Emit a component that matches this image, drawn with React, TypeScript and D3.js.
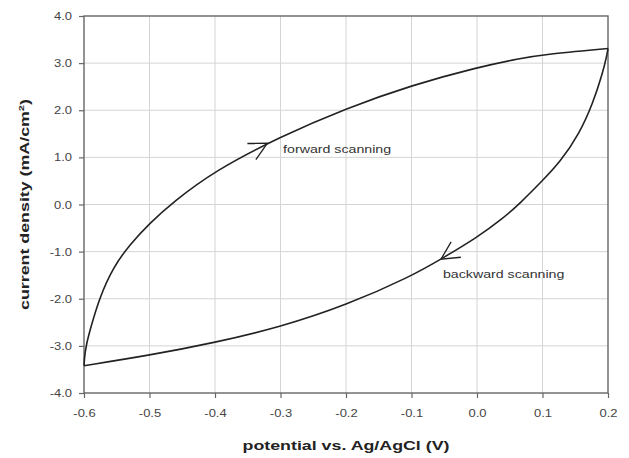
import React, { useEffect, useRef } from "react";
import * as d3 from "d3";

// cyclic voltammogram
const forwardPotential = [-0.6, -0.599, -0.596, -0.591, -0.576, -0.555, -0.53, -0.5, -0.464, -0.4, -0.3, -0.2, -0.1, 0.0, 0.066, 0.1, 0.2];
const forwardCurrent = [-3.42, -3.2, -2.95, -2.67, -1.96, -1.32, -0.85, -0.4, 0.05, 0.72, 1.44, 2.04, 2.53, 2.91, 3.1, 3.18, 3.31];

const backwardPotential = [-0.6, -0.5, -0.4, -0.3, -0.2, -0.1, -0.054, 0.0, 0.04, 0.066, 0.096, 0.127, 0.157, 0.177, 0.192, 0.198, 0.2];
const backwardCurrent = [-3.42, -3.2, -2.93, -2.6, -2.14, -1.52, -1.15, -0.7, -0.29, 0.03, 0.45, 0.9, 1.52, 2.15, 2.8, 3.15, 3.31];

const xTicks = [-0.6, -0.5, -0.4, -0.3, -0.2, -0.1, 0.0, 0.1, 0.2];
const yTicks = [-4, -3, -2, -1, 0, 1, 2, 3, 4];

// arrows: tip on the curve and a point behind it (gives the direction)
const arrowLabels = ["forward scanning", "backward scanning"];
const arrowTip = [[-0.32, 1.3], [-0.055, -1.16]];
const arrowTail = [[-0.35, 1.08], [-0.02, -0.85]];
const labelPos = [[-0.296, 1.09], [-0.052, -1.56]];

const W = 629, H = 458;
const margin = { top: 16, right: 21, bottom: 65, left: 84 };

export default function App() {
  const ref = useRef<SVGSVGElement | null>(null);

  useEffect(() => {
    const svg = d3.select(ref.current);
    svg.selectAll("*").remove();

    const width = W - margin.left - margin.right;
    const height = H - margin.top - margin.bottom;

    const x = d3.scaleLinear().domain([-0.6, 0.2]).range([0, width]);
    const y = d3.scaleLinear().domain([-4, 4]).range([height, 0]);

    const g = svg.append("g").attr("transform", `translate(${margin.left},${margin.top})`);

    // grid
    g.append("g")
      .selectAll("line")
      .data(xTicks.slice(1, -1))
      .enter()
      .append("line")
      .attr("x1", d => x(d)).attr("x2", d => x(d))
      .attr("y1", 0).attr("y2", height)
      .attr("stroke", "#d4d4d4").attr("stroke-width", 1);
    g.append("g")
      .selectAll("line")
      .data(yTicks.slice(1, -1))
      .enter()
      .append("line")
      .attr("y1", d => y(d)).attr("y2", d => y(d))
      .attr("x1", 0).attr("x2", width)
      .attr("stroke", "#d4d4d4").attr("stroke-width", 1);

    // frame
    g.append("rect")
      .attr("width", width).attr("height", height)
      .attr("fill", "none").attr("stroke", "#666").attr("stroke-width", 1.4);

    // axes
    const yAxis = g.append("g")
      .call(d3.axisLeft(y).tickValues(yTicks).tickSize(5).tickSizeOuter(0).tickFormat(d => (+d).toFixed(1)));
    const xAxis = g.append("g")
      .attr("transform", `translate(0,${height})`)
      .call(d3.axisBottom(x).tickValues(xTicks).tickSize(5).tickSizeOuter(0).tickFormat(d => (+d).toFixed(1)));

    [yAxis, xAxis].forEach(a => {
      a.select(".domain").remove();
      a.selectAll("line").attr("stroke", "#666").attr("stroke-width", 1.2);
      a.selectAll("text")
        .attr("font-family", "'Liberation Sans', Arial, sans-serif")
        .attr("font-size", 10)
        .attr("fill", "#444");
    });
    yAxis.selectAll("text").attr("x", 0).attr("dy", "0.35em").attr("transform", "translate(-12,0) scale(1.3,1)");
    xAxis.selectAll("text").attr("y", 0).attr("dy", 0).attr("transform", "translate(0,24) scale(1.3,1)");

    // curves
    const line = d3.line<[number, number]>()
      .x(d => x(d[0]))
      .y(d => y(d[1]))
      .curve(d3.curveBasis);

    const fwd = forwardPotential.map((p, i) => [p, forwardCurrent[i]] as [number, number]);
    const bwd = backwardPotential.map((p, i) => [p, backwardCurrent[i]] as [number, number]);

    g.selectAll("path.cv")
      .data([fwd, bwd])
      .enter()
      .append("path")
      .attr("class", "cv")
      .attr("d", line)
      .attr("fill", "none")
      .attr("stroke", "#222")
      .attr("stroke-width", 1.6);

    // arrows + labels
    arrowLabels.forEach((label, i) => {
      const tx = x(arrowTip[i][0]), ty = y(arrowTip[i][1]);
      const bx = x(arrowTail[i][0]), by = y(arrowTail[i][1]);
      const back = Math.atan2(by - ty, bx - tx);
      const half = (27 * Math.PI) / 180;
      const len = 20;
      const p1 = [tx + len * Math.cos(back + half), ty + len * Math.sin(back + half)];
      const p2 = [tx + len * Math.cos(back - half), ty + len * Math.sin(back - half)];
      g.append("path")
        .attr("d", `M${p1[0]},${p1[1]}L${tx},${ty}L${p2[0]},${p2[1]}`)
        .attr("fill", "none")
        .attr("stroke", "#222")
        .attr("stroke-width", 1.3);

      g.append("text")
        .attr("transform", `translate(${x(labelPos[i][0])},${y(labelPos[i][1])}) scale(1.42,1)`)
        .attr("font-family", "'Liberation Sans', Arial, sans-serif")
        .attr("font-size", 10)
        .attr("fill", "#333")
        .text(label);
    });

    // axis titles
    svg.append("text")
      .attr("transform", `translate(${margin.left + width / 2},450) scale(1.37,1)`)
      .attr("text-anchor", "middle")
      .attr("font-family", "'Liberation Sans', Arial, sans-serif")
      .attr("font-weight", "bold")
      .attr("font-size", 13)
      .attr("fill", "#222")
      .text("potential vs. Ag/AgCl (V)");

    const yt = svg.append("text")
      .attr("transform", `translate(29,${margin.top + height / 2}) rotate(-90) scale(1.37,1)`)
      .attr("text-anchor", "middle")
      .attr("font-family", "'Liberation Sans', Arial, sans-serif")
      .attr("font-weight", "bold")
      .attr("font-size", 13)
      .attr("fill", "#222");
    yt.append("tspan").text("current density (mA/cm");
    yt.append("tspan").attr("font-size", 8).attr("dy", -5).text("2");
    yt.append("tspan").attr("dy", 5).text(")");
  }, []);

  return (
    <div style={{ position: "absolute", left: 0, top: 0 }}>
      <svg ref={ref} width={W} height={H} style={{ display: "block", background: "#fff" }} />
    </div>
  );
}
